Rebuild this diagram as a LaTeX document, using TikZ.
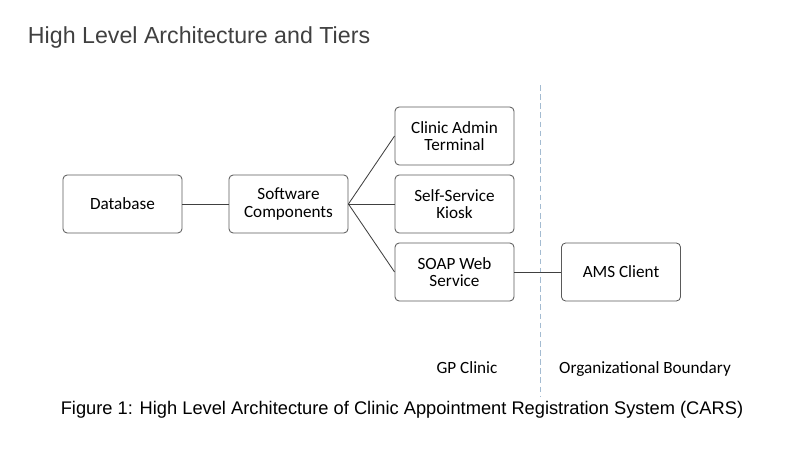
\documentclass[tikz,border=0pt]{standalone}
\usepackage{fontspec}
\setmainfont{Carlito}
\newfontfamily\arialfont{Liberation Sans}
\usepackage{tikz}
\usetikzlibrary{shapes}
\usetikzlibrary{positioning}
\definecolor{boxline}{HTML}{5A5A5A}
\definecolor{titlegrey}{HTML}{404040}
\definecolor{tierline}{HTML}{A3BBD1}
\tikzstyle{tier} = [rectangle, rounded corners=3pt, minimum width=2.975cm, minimum height=1.45cm, text centered, align=center, draw=boxline, line width=0.6pt, font=\fontsize{12.2}{12.6}\selectfont]
\tikzstyle{link} = [draw=black!75, line width=0.6pt]

\begin{document}
\begin{tikzpicture}[x=0.025cm, y=-0.025cm]

    \useasboundingbox (0, 0) rectangle (789, 454);

    \node[anchor=west, text=titlegrey, font=\arialfont\fontsize{16.5}{19}\selectfont] (title) at (23, 37) {High Level Architecture and Tiers};

    % \node(start)[tier]{Start};
    \node(database)[tier] at (122.5, 204) {Database};
    \node(software)[tier] at (288.5, 204) {Software\\Components};

    \node(admin)[tier] at (454.5, 136) {Clinic Admin\\Terminal};
    \node(kiosk)[tier] at (454.5, 204) {Self-Service\\Kiosk};
    \node(soap)[tier] at (454.5, 272) {SOAP Web\\Service};

    \node(ams)[tier] at (621, 272) {AMS Client};

    \coordinate (bndtop) at (540, 85);
    \coordinate (bndbot) at (540, 396);
    \draw[tierline, dashed, dash pattern=on 4pt off 2.5pt, line width=0.6pt] (bndtop) -- (bndbot);

    \draw[link] (database.east) -- (software.west);
    \draw[link] (software.east) -- (admin.west);
    \draw[link] (software.east) -- (kiosk.west);
    \draw[link] (software.east) -- (soap.west);
    \draw[link] (soap.east) -- (ams.west);

    \node(gp)[anchor=base, font=\fontsize{12.2}{13.5}\selectfont] at (467, 373) {GP Clinic};
    \node(org)[anchor=base, font=\fontsize{12.2}{13.5}\selectfont] at (645, 373) {Organizational Boundary};

    % \node(caption)[below of=gp]{...};
    \node(caption)[font=\arialfont\fontsize{13}{15}\selectfont] at (402, 410) {Figure 1: High Level Architecture of Clinic Appointment Registration System (CARS)};

\end{tikzpicture}
\end{document}
